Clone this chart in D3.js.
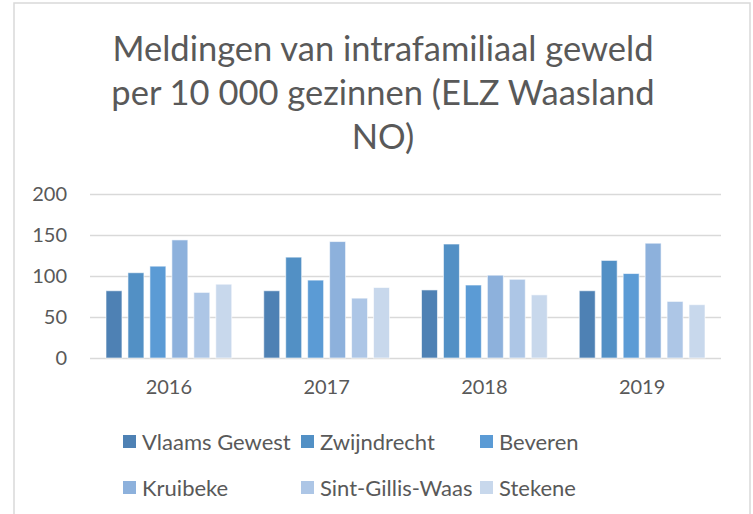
<!DOCTYPE html>
<html>
<head>
<meta charset="utf-8">
<script src="https://cdn.jsdelivr.net/npm/d3@7"></script>
<style>
	body { margin: 0; background: #fff; }
	svg { display: block; font-family: Lato, "Open Sans", sans-serif; }
</style>
</head>
<body>
<div id="chart"></div>
<script>
var years = ["2016", "2017", "2018", "2019"];
var series = ["Vlaams Gewest", "Zwijndrecht", "Beveren", "Kruibeke", "Sint-Gillis-Waas", "Stekene"];
var vlaamsGewest = [82, 82, 83, 82];
var zwijndrecht = [104, 123, 139, 119];
var beveren = [112, 95, 89, 103];
var kruibeke = [144, 142, 101, 140];
var sintGillis = [80, 73, 96, 69];
var stekene = [90, 86, 77, 65];
var yTicks = [0, 50, 100, 150, 200];
var titleLines = ["Meldingen van intrafamiliaal geweld", "per 10 000 gezinnen (ELZ Waasland", "NO)"];

var colors = ["#4e81b4", "#5290c5", "#5b9bd5", "#8db1dc", "#adc6e6", "#c8d8ec"];
var values = [vlaamsGewest, zwijndrecht, beveren, kruibeke, sintGillis, stekene];

const width = 753, height = 514;
const margin = { top: 194, right: 32, bottom: 156, left: 90 };
const plotW = width - margin.left - margin.right;
const plotH = height - margin.top - margin.bottom;

const svg = d3.select("#chart").append("svg")
	.attr("width", width)
	.attr("height", height);

// chart border
svg.append("rect")
	.attr("x", 14).attr("y", 3)
	.attr("width", 736).attr("height", 520)
	.attr("fill", "#fff")
	.attr("stroke", "#d9d9d9")
	.attr("stroke-width", 1.5);

// title
svg.append("g").selectAll("text")
	.data(titleLines)
	.enter()
	.append("text")
	.attr("x", 383)
	.attr("y", (d, i) => 61 + i * 44)
	.attr("text-anchor", "middle")
	.attr("font-size", 34.5)
	.attr("fill", "#595959")
	.text(d => d);

const g = svg.append("g")
	.attr("transform", "translate(" + margin.left + "," + margin.top + ")");

const x0 = d3.scaleBand()
	.domain(years)
	.range([0, plotW]);

const x1 = d3.scaleBand()
	.domain(series)
	.range([16, x0.bandwidth() - 16])
	.paddingInner(0.273);

const yScale = d3.scaleLinear()
	.domain([0, 200])
	.range([plotH, 0]);

const yAxis = d3.axisLeft(yScale)
	.tickValues(yTicks)
	.tickSize(-plotW)
	.tickPadding(23);

g.append("g")
	.attr("class", "yaxis")
	.call(yAxis)
	.call(s => s.select(".domain").remove())
	.call(s => s.selectAll("line").attr("stroke", "#d9d9d9").attr("stroke-width", 1.5))
	.call(s => s.selectAll("text").attr("font-size", 20).attr("fill", "#595959").attr("font-family", "Lato"));

const xAxis = d3.axisBottom(x0).tickSize(0).tickPadding(22);

g.append("g")
	.attr("class", "xaxis")
	.attr("transform", "translate(0," + plotH + ")")
	.call(xAxis)
	.call(s => s.select(".domain").remove())
	.call(s => s.selectAll("text").attr("font-size", 20).attr("fill", "#595959").attr("font-family", "Lato"));

const groups = g.selectAll(".grp")
	.data(years)
	.enter()
	.append("g")
	.attr("class", "grp")
	.attr("transform", d => "translate(" + x0(d) + ",0)");

groups.selectAll("rect")
	.data((d, i) => series.map((s, j) => ({ s: s, v: values[j][i], c: colors[j] })))
	.enter()
	.append("rect")
	.attr("x", d => x1(d.s))
	.attr("width", x1.bandwidth())
	.attr("y", d => yScale(d.v))
	.attr("height", d => plotH - yScale(d.v))
	.attr("fill", d => d.c)
	.attr("stroke", "#fff")
	.attr("stroke-opacity", 0.6)
	.attr("stroke-width", 1);

// legend
var legendX = [123, 301, 480];
var legendY = [442, 488];
const legend = svg.append("g").selectAll(".leg")
	.data(series)
	.enter()
	.append("g")
	.attr("class", "leg")
	.attr("transform", (d, i) => "translate(" + legendX[i % 3] + "," + legendY[Math.floor(i / 3)] + ")");

legend.append("rect")
	.attr("x", 0).attr("y", -7)
	.attr("width", 13).attr("height", 13)
	.attr("fill", (d, i) => colors[i]);

legend.append("text")
	.attr("x", 19)
	.attr("y", 0)
	.attr("dy", "0.35em")
	.attr("font-size", 22)
	.attr("fill", "#595959")
	.text(d => d);
</script>
</body>
</html>
